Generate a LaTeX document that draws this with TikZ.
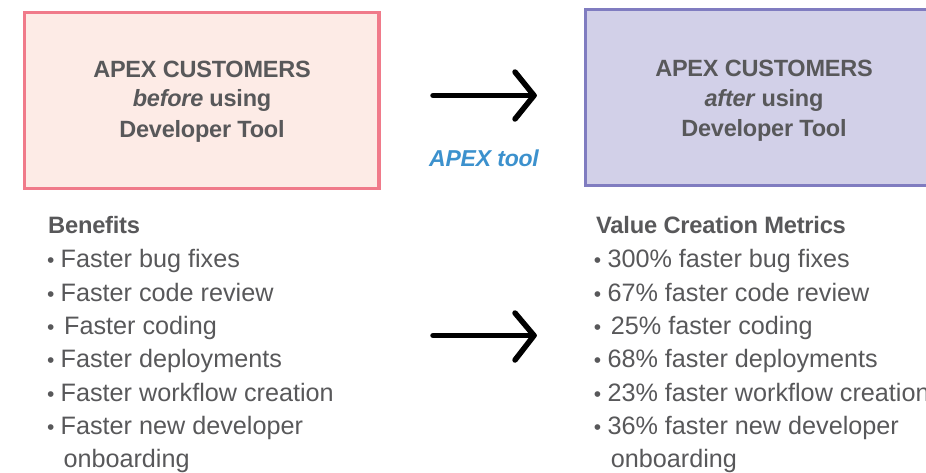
\documentclass[tikz,border=0pt]{standalone}
\usepackage{fontspec}
\setmainfont{Liberation Sans}
\definecolor{pinkline}{RGB}{240,122,138}
\definecolor{pinkfill}{RGB}{253,235,230}
\definecolor{purpline}{RGB}{128,124,192}
\definecolor{purpfill}{RGB}{210,208,232}
\definecolor{txtgray}{RGB}{88,88,90}
\definecolor{toolblue}{RGB}{60,145,205}
\begin{document}
\begin{tikzpicture}[x=1pt,y=-1pt,
  boxtxt/.style={text=txtgray,font=\fontsize{23.5}{23.5}\selectfont\bfseries\addfontfeatures{LetterSpace=-1},anchor=base,inner sep=0pt},
  head/.style={text=txtgray,font=\fontsize{23.7}{23.7}\selectfont\bfseries\addfontfeatures{LetterSpace=-1},anchor=base west,inner sep=0pt},
  item/.style={text=txtgray,font=\fontsize{25.2}{25.2}\selectfont,anchor=base west,inner sep=0pt},
  bul/.style={text=txtgray,font=\fontsize{21}{21}\selectfont,anchor=base,inner sep=0pt},
  bigarrow/.style={line width=5.5pt,line cap=round,line join=round,black}]
\useasboundingbox (0,0) rectangle (926,472);
\clip (0,0) rectangle (926,472);
% boxes
\draw[pinkline,fill=pinkfill,line width=3.5pt] (24.5,12.5) rectangle (379,188.5);
\draw[purpline,fill=purpfill,line width=3.5pt] (585.5,9.5) rectangle (940,185.5);
\node[boxtxt] (l1) at (202,77.3) {APEX CUSTOMERS};
\node[boxtxt] (l2) at (202,106.7) {\textit{before} using};
\node[boxtxt] (l3) at (202,137.3) {Developer Tool};
\node[boxtxt] (r1) at (764,76.7) {APEX CUSTOMERS};
\node[boxtxt] (r2) at (764,106) {\textit{after} using};
\node[boxtxt] (r3) at (764,136.5) {Developer Tool};
% arrows
\coordinate (a1s) at (433,95.5);
\coordinate (a1e) at (534,95.5);
\coordinate (a1t) at (515,72);
\coordinate (a1b) at (515,119);
\draw[bigarrow] (a1s) -- (a1e);
\draw[bigarrow] (a1t) -- (a1e) -- (a1b);
\node[text=toolblue,font=\fontsize{23}{23}\selectfont\bfseries\itshape\addfontfeatures{LetterSpace=-1},anchor=base,inner sep=0pt] (tool) at (484,166.5) {APEX tool};
\coordinate (a2s) at (433,335.5);
\coordinate (a2e) at (534,335.5);
\coordinate (a2t) at (515,313);
\coordinate (a2b) at (515,360);
\draw[bigarrow] (a2s) -- (a2e);
\draw[bigarrow] (a2t) -- (a2e) -- (a2b);
% left list
\node[head] (bh) at (48,233.3) {Benefits};
\node[bul] (b1d) at (50.7,267.7) {•};
\node[bul] (b2d) at (50.7,301) {•};
\node[bul] (b3d) at (50.7,334.3) {•};
\node[bul] (b4d) at (50.7,367.7) {•};
\node[bul] (b5d) at (50.7,401) {•};
\node[bul] (b6d) at (50.7,434.3) {•};
\node[item] (b1) at (60.5,267.7) {Faster bug fixes};
\node[item] (b2) at (60.5,301) {Faster code review};
\node[item] (b3) at (64,334.3) {Faster coding};
\node[item] (b4) at (60.5,367.7) {Faster deployments};
\node[item] (b5) at (60.5,401) {Faster workflow creation};
\node[item] (b6) at (60.5,434.3) {Faster new developer};
\node[item] (b7) at (63.3,467.7) {onboarding};
% right list
\node[head] (vh) at (596,233.3) {Value Creation Metrics};
\node[bul] (v1d) at (597.5,267.7) {•};
\node[bul] (v2d) at (597.5,301) {•};
\node[bul] (v3d) at (597.5,334.3) {•};
\node[bul] (v4d) at (597.5,367.7) {•};
\node[bul] (v5d) at (597.5,401) {•};
\node[bul] (v6d) at (597.5,434.3) {•};
\node[item] (v1) at (607.3,267.7) {300\% faster bug fixes};
\node[item] (v2) at (607.3,301) {67\% faster code review};
\node[item] (v3) at (610.7,334.3) {25\% faster coding};
\node[item] (v4) at (607.3,367.7) {68\% faster deployments};
\node[item] (v5) at (607.3,401) {23\% faster workflow creation};
\node[item] (v6) at (607.3,434.3) {36\% faster new developer};
\node[item] (v7) at (610.7,467.7) {onboarding};
\end{tikzpicture}
\end{document}
